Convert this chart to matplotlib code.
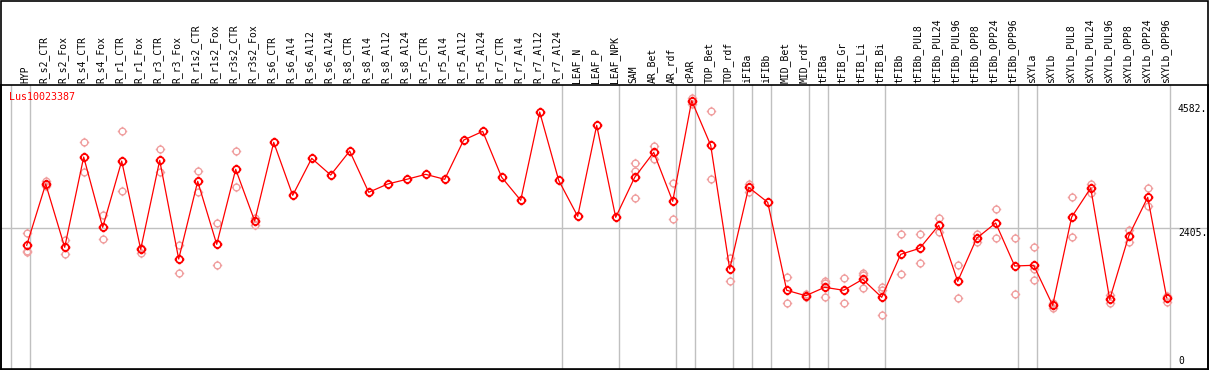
import numpy as np
import matplotlib
matplotlib.use("Agg")
import matplotlib.pyplot as plt
from matplotlib.path import Path
from matplotlib.patches import Rectangle

categories = ["HYP", "R_s2_CTR", "R_s2_Fox", "R_s4_CTR", "R_s4_Fox", "R_r1_CTR", "R_r1_Fox",
              "R_r3_CTR", "R_r3_Fox", "R_r1s2_CTR", "R_r1s2_Fox", "R_r3s2_CTR", "R_r3s2_Fox",
              "R_s6_CTR", "R_s6_Al4", "R_s6_Al12", "R_s6_Al24", "R_s8_CTR", "R_s8_Al4",
              "R_s8_Al12", "R_s8_Al24", "R_r5_CTR", "R_r5_Al4", "R_r5_Al12", "R_r5_Al24",
              "R_r7_CTR", "R_r7_Al4", "R_r7_Al12", "R_r7_Al24", "LEAF_N", "LEAF_P", "LEAF_NPK",
              "SAM", "AR_Bet", "AR_rdf", "cPAR", "TOP_Bet", "TOP_rdf", "iFIBa", "iFIBb",
              "MID_Bet", "MID_rdf", "tFIBa", "tFIB_Gr", "tFIB_Li", "tFIB_Bi", "tFIBb",
              "tFIBb_PUL8", "tFIBb_PUL24", "tFIBb_PUL96", "tFIBb_OPP8", "tFIBb_OPP24",
              "tFIBb_OPP96", "sXYLa", "sXYLb", "sXYLb_PUL8", "sXYLb_PUL24", "sXYLb_PUL96",
              "sXYLb_OPP8", "sXYLb_OPP24", "sXYLb_OPP96"]

mean_values = [2108, 3180, 2073, 3652, 2422, 3582, 2038, 3594, 1868, 3227, 2125, 3437, 2533,
               3909, 2982, 3629, 3337, 3757, 3035, 3180, 3262, 3349, 3262, 3949, 4101,
               3297, 2895, 4439, 3244, 2615, 4206, 2597,
               3297, 3734, 2877, 4637, 3857, 1693, 3122, 2860,
               1321, 1226, 1373, 1321, 1513, 1198, 1950, 2055, 2457, 1478, 2232, 2498,
               1746, 1758, 1058, 2603, 3110, 1163, 2270, 2947, 1191]

# replicate measurements: (category index, value)
rep_index = [0, 0, 0, 1, 1, 2, 2, 3, 3, 4, 4, 5, 5, 6, 6, 7, 7, 8, 8, 9, 9, 10, 10, 11, 11, 12, 12,
             32, 32, 32, 33, 33, 34, 34, 35, 35, 36, 36, 37, 37, 38, 38,
             40, 40, 41, 41, 42, 42, 42, 43, 43, 44, 44, 44, 45, 45, 45, 46, 46, 47, 47,
             48, 48, 49, 49, 50, 50, 51, 51, 52, 52, 53, 53, 53, 54, 54, 55, 55, 56, 56,
             57, 57, 58, 58, 59, 59, 60, 60]
rep_values = [2317, 2013, 1985, 3237, 3145, 2195, 1950, 3909, 3384, 2637, 2212, 4101, 3052,
              2055, 1978, 3787, 3390, 2113, 1618, 3402, 3045, 2492, 1758, 3752, 3122, 2580, 2463,
              3542, 3402, 2930, 3844, 3622, 3192, 2562, 4689, 4579, 4451, 3262, 1891, 1488,
              3180, 3034,
              1548, 1093, 1251, 1203, 1483, 1448, 1198, 1530, 1093, 1628, 1588, 1355,
              1383, 1326, 883, 2300, 1600, 2300, 1793, 2580, 2345, 1758, 1181, 2300, 2160,
              2737, 2230, 2230, 1251, 2073, 1688, 1495, 1104, 1016, 2947, 2247, 3185, 3017,
              1238, 1093, 2380, 2160, 3104, 2790, 1221, 1121]

group_ends = [-1, 0, 28, 31, 34, 35, 37, 38, 39, 41, 42, 45, 52, 53, 60]
y_ticks = [0, 2405, 4582]
y_tick_labels = ["0", "2405.", "4582."]
gene_name = "Lus10023387"

W, H = 1209, 370
fig = plt.figure(figsize=(W / 100, H / 100), dpi=100)
ax_left, ax_right, ax_top, ax_bot = 1, 1208, 85, 369
ax = fig.add_axes([ax_left / W, 1 - ax_bot / H, (ax_right - ax_left) / W, (ax_bot - ax_top) / H])

x = np.arange(len(categories))
ax.set_xlim(-1.3526, 62.174)
ax.set_ylim(-56, 4912)

grey = "#c0c0c0"
for g in group_ends:
    off = 0.16 if g < 0 else 0.19
    ax.axvline(g + off, color=grey, lw=1.0, zorder=1)
ax.axhline(2405, color=grey, lw=1.0, zorder=1)

# marker: circle with four short stubs
circ = Path.unit_circle()
stub_v = [(0, 1.0), (0, 1.4), (0, -1.0), (0, -1.4), (1.0, 0), (1.4, 0), (-1.0, 0), (-1.4, 0)]
stub_c = [Path.MOVETO, Path.LINETO] * 4
stubs = Path(stub_v, stub_c)
mk = Path.make_compound_path(circ, stubs)

ax.plot(rep_index, rep_values, linestyle="none", marker=mk, markersize=6.8,
        markerfacecolor="none", markeredgecolor="#f0a0a0", markeredgewidth=1.0, zorder=2)
ax.plot(x, mean_values, color="#ff0000", lw=0.9, zorder=3)
ax.plot(x, mean_values, linestyle="none", marker=mk, markersize=7.0,
        markerfacecolor="none", markeredgecolor="#ff0000", markeredgewidth=1.3, zorder=4)

for s in ax.spines.values():
    s.set_color("black")
    s.set_linewidth(1.2)
ax.set_xticks([])
ax.set_yticks([])

mono = "DejaVu Sans Mono"
# category labels above the plot
lab_y = 1 + 2 / (ax_bot - ax_top)
for i, c in enumerate(categories):
    ax.text(i - 0.08, lab_y, c, rotation=90, ha="center", va="bottom", fontsize=7,
            family=mono, color="black", transform=ax.get_xaxis_transform(), clip_on=False)

ax.text(-1.3526 + 8 / 19, 1 - 12.3 / (ax_bot - ax_top), gene_name, color="#ff0000",
        fontsize=7.2, family=mono, ha="left", va="center", transform=ax.get_xaxis_transform())

xr = -1.3526 + (1178 - ax_left) / 19
for v, t in zip(y_ticks, y_tick_labels):
    ax.text(xr, v, t, fontsize=7, family=mono, ha="left",
            va="top" if v > 0 else "bottom", color="black")

fig.patches.append(Rectangle((0.5 / W, 0.5 / H), (W - 1.5) / W, (H - 1.5) / H, transform=fig.transFigure,
                             fill=False, edgecolor="black", lw=1.2))

fig.savefig("out.png", dpi=100, facecolor="white")
